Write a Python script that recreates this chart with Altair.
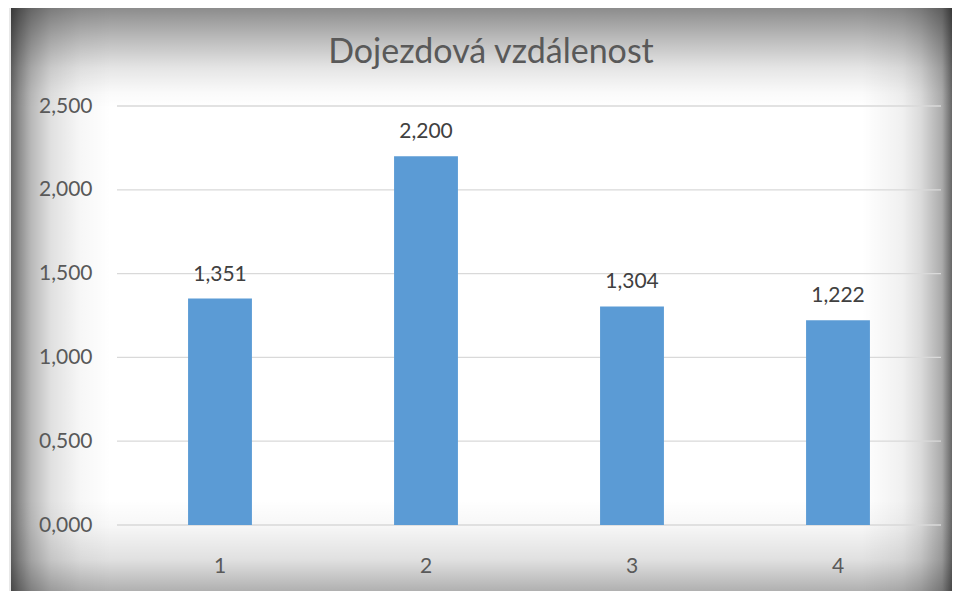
import altair as alt
import pandas as pd

# ---- data ----
categories = ["1", "2", "3", "4"]
values = [1.351, 2.200, 1.304, 1.222]
y_ticks = [0.0, 0.5, 1.0, 1.5, 2.0, 2.5]
title_text = ["Dojezdová vzdálenost"]

W, H = 824, 419
FONT = "Lato"
GREY = "#595959"

bars_df = pd.DataFrame({"cat": categories, "val": values})
grid_df = pd.DataFrame({"val": y_ticks})
title_df = pd.DataFrame({"t": title_text})
one = pd.DataFrame({"k": [0]})

x_enc = alt.X(
    "cat:N",
    sort=categories,
    scale=alt.Scale(paddingInner=0.69, paddingOuter=0.345),
    axis=alt.Axis(
        title=None, labelAngle=0, domain=False, ticks=False, grid=False,
        labelPadding=30, labelFontSize=21, labelColor=GREY, labelFont=FONT,
        zindex=1,
    ),
)
y_scale = alt.Scale(domain=[0, 2.5], nice=False)
y_axis = alt.Axis(
    title=None, values=y_ticks, grid=False, domain=False, ticks=False,
    labelExpr="replace(format(datum.value, '.3f'), '.', ',')",
    labelPadding=25, labelFontSize=21, labelColor=GREY, labelFont=FONT,
    zindex=1,
)
y_enc = alt.Y("val:Q", scale=y_scale, axis=y_axis)


def grad(stops, horizontal, reverse):
    s = [alt.GradientStop(offset=o, color=f"rgba(0,0,0,{a})") for o, a in stops]
    if horizontal:
        x1, x2, y1, y2 = (1, 0, 0, 0) if reverse else (0, 1, 0, 0)
    else:
        x1, x2, y1, y2 = (0, 0, 1, 0) if reverse else (0, 0, 0, 1)
    return alt.LinearGradient(gradient="linear", stops=s, x1=x1, x2=x2, y1=y1, y2=y2)


FL, FR, FT, FB = -106, 835, -98, 509  # frame in plot coordinates

left_stops = [(0, 0.6), (0.08, 0.45), (0.2, 0.28), (0.4, 0.12), (0.7, 0.03), (1, 0)]
right_stops = [(0, 0.6), (0.11, 0.33), (0.35, 0.14), (0.55, 0.06), (1, 0)]
top_stops = [(0, 0.45), (0.3, 0.27), (0.6, 0.1), (0.85, 0.02), (1, 0)]
bottom_stops = [(0, 0.45), (0.12, 0.37), (0.22, 0.3), (0.48, 0.12), (0.78, 0.03), (1, 0)]

base1 = alt.Chart(one)
vig_left = base1.mark_rect(fill=grad(left_stops, True, False)).encode(
    x=alt.value(FL), x2=alt.value(FL + 100), y=alt.value(FT), y2=alt.value(FB))
vig_right = base1.mark_rect(fill=grad(right_stops, True, True)).encode(
    x=alt.value(FR - 90), x2=alt.value(FR), y=alt.value(FT), y2=alt.value(FB))
vig_top = base1.mark_rect(fill=grad(top_stops, False, False)).encode(
    x=alt.value(FL), x2=alt.value(FR), y=alt.value(FT), y2=alt.value(FT + 100))
vig_bottom = base1.mark_rect(fill=grad(bottom_stops, False, True)).encode(
    x=alt.value(FL), x2=alt.value(FR), y=alt.value(FB - 115), y2=alt.value(FB))
frame = base1.mark_rect(fillOpacity=0, stroke="#d0d0d0", strokeWidth=1).encode(
    x=alt.value(FL - 1), x2=alt.value(FR + 10), y=alt.value(FT - 1), y2=alt.value(FB))

grid = alt.Chart(grid_df).mark_rule(color="#D9D9D9", strokeWidth=1.3).encode(
    y=y_enc,
    x=alt.value(0), x2=alt.value(W),
)

bars = alt.Chart(bars_df).mark_bar(color="#5B9BD5").encode(x=x_enc, y=y_enc)

labels = alt.Chart(bars_df).transform_calculate(
    label="replace(format(datum.val, '.3f'), '.', ',')"
).mark_text(
    dy=-18, baseline="alphabetic", align="center", fontSize=21, font=FONT, color="#404040"
).encode(x=alt.X("cat:N", sort=categories), y=alt.Y("val:Q"), text="label:N")

title = alt.Chart(title_df).mark_text(
    align="center", baseline="alphabetic", fontSize=34, font=FONT, color=GREY
).encode(x=alt.value(374), y=alt.value(-43), text="t:N")

chart = alt.layer(
    vig_left, vig_right, vig_top, vig_bottom, frame, grid, bars, labels, title
).properties(
    width=W, height=H,
    autosize=alt.AutoSizeParams(type="none"),
    padding={"left": 109, "top": 98, "right": 11, "bottom": 66},
    background="white",
).configure_view(strokeWidth=0)

chart.save("out.html", embed_options={"renderer": "svg", "actions": False})
